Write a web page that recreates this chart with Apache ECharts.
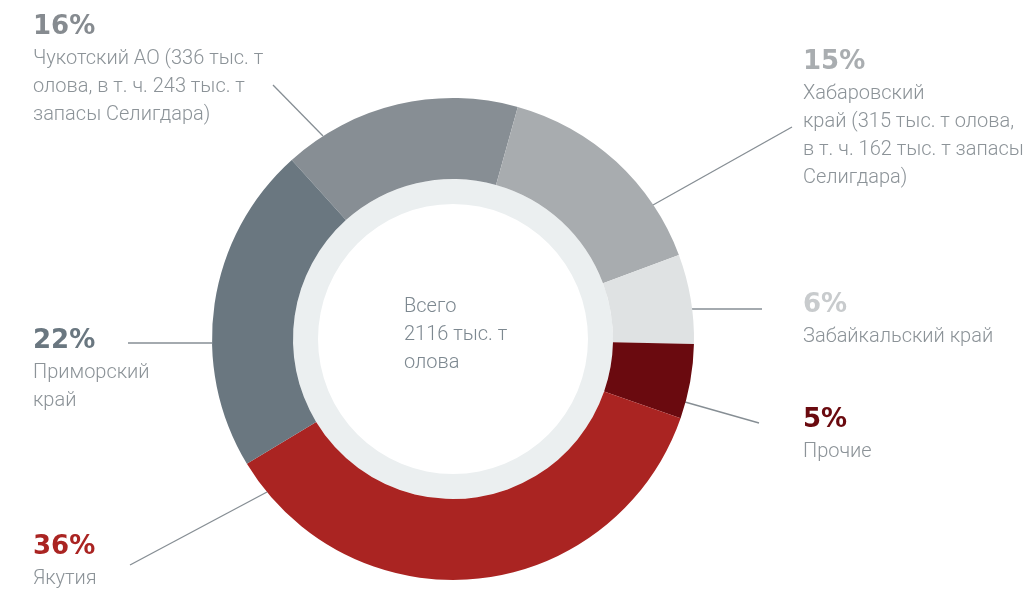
<!DOCTYPE html>
<html>
<head>
<meta charset="utf-8">
<script src="https://cdn.jsdelivr.net/npm/echarts@6/dist/echarts.min.js"></script>
<style>
html,body{margin:0;padding:0;background:#fff;}
#main{width:1032px;height:590px;}
</style>
</head>
<body>
<div id="main"></div>
<script>
// ---- data ----
const regions = [
  'Чукотский АО (336 тыс. т\nолова, в т. ч. 243 тыс. т\nзапасы Селигдара)',
  'Хабаровский\nкрай (315 тыс. т олова,\nв т. ч. 162 тыс. т запасы\nСелигдара)',
  'Забайкальский край',
  'Прочие',
  'Якутия',
  'Приморский\nкрай'
];
const shares = [16, 15, 6, 5, 36, 22];
const totalText = 'Всего\n2116 тыс. т\nолова';

// ---- styles / layout ----
const sliceColors = ['#878e94', '#a8acaf', '#dfe2e3', '#6a0a0f', '#aa2422', '#6a7780'];
const pctColors   = ['#868b90', '#a9adb0', '#c8cbcd', '#6a0a0f', '#aa2422', '#6a7780'];
const labelPos = [
  {x: 33,  y: 9,   line: [[323,136],[273,85]]},
  {x: 803, y: 44,  line: [[653,205],[792,127]]},
  {x: 803, y: 287, line: [[692,309],[762,309]]},
  {x: 803, y: 402, line: [[685,402],[759,423]]},
  {x: 33,  y: 529, line: [[267,492],[130,565]]},
  {x: 33,  y: 323, line: [[212,343],[128,343]]}
];
const bodyFont = 'Roboto, "Noto Sans", sans-serif';

const rich = { t: { fontFamily: bodyFont, fontWeight: 300, fontSize: 20, lineHeight: 28, color: '#8c9398' } };
pctColors.forEach((c, i) => {
  rich['p' + i] = { fontFamily: '"DejaVu Sans", sans-serif', fontWeight: 'bold', fontSize: 26, lineHeight: 36, color: c };
});

const chart = echarts.init(document.getElementById('main'));
chart.setOption({
  animation: false,
  title: {
    text: totalText,
    left: 404, top: 293,
    padding: 0,
    textStyle: { fontFamily: bodyFont, fontWeight: 300, fontSize: 20, lineHeight: 28, color: '#7d8890' }
  },
  series: [
    {
      type: 'pie',
      silent: true,
      center: [453, 339],
      radius: [135, 160],
      label: { show: false },
      labelLine: { show: false },
      itemStyle: { color: '#ebeff0' },
      data: [{ value: 1, name: '' }]
    },
    {
      type: 'pie',
      center: [453, 339],
      radius: [160, 241],
      startAngle: 132,
      clockwise: true,
      avoidLabelOverlap: false,
      itemStyle: { borderWidth: 0 },
      data: shares.map((v, i) => ({ value: v, name: regions[i], itemStyle: { color: sliceColors[i] } })),
      label: {
        show: true,
        position: 'outside',
        align: 'left',
        formatter: p => `{p${p.dataIndex}|${p.value}%}\n{t|${p.name}}`,
        rich: rich
      },
      labelLine: { show: true, lineStyle: { color: '#868e94', width: 1.3 } },
      labelLayout: p => {
        const L = labelPos[p.dataIndex];
        return { x: L.x, y: L.y, align: 'left', verticalAlign: 'top', labelLinePoints: L.line };
      }
    }
  ]
});
</script>
</body>
</html>
